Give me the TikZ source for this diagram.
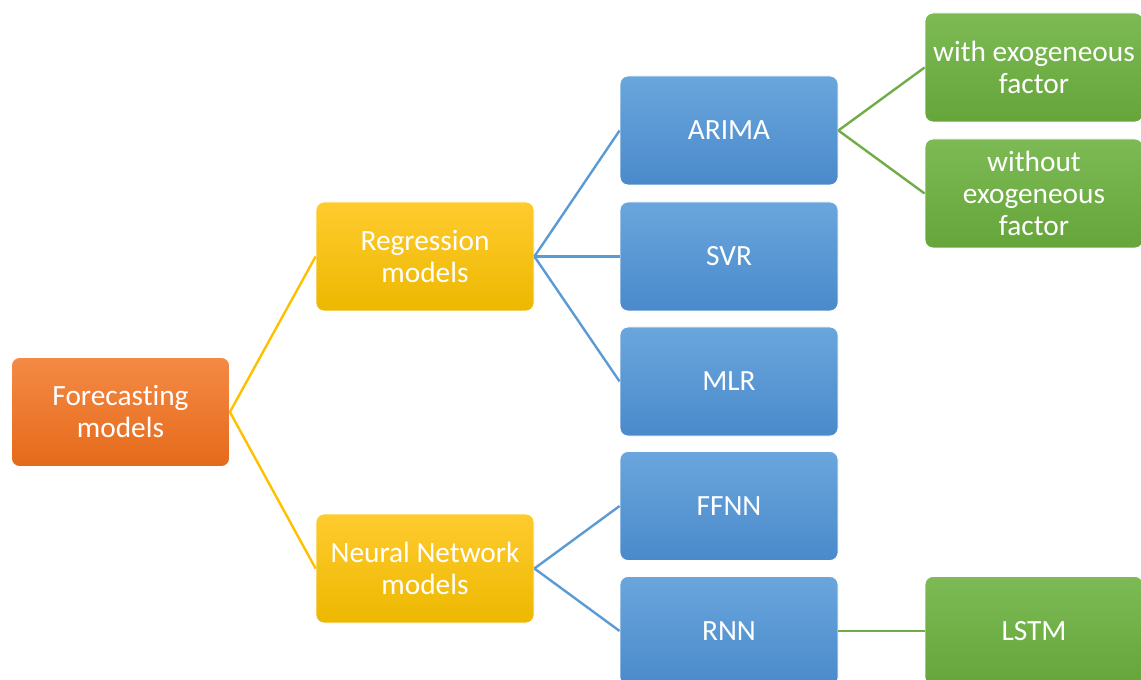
\documentclass[tikz,border=0pt]{standalone}
\usepackage{fontspec}
\setmainfont[Ligatures={NoCommon}]{Carlito}
\definecolor{orT}{HTML}{F48A45}
\definecolor{orB}{HTML}{E56A1A}
\definecolor{yeT}{HTML}{FFCB2E}
\definecolor{yeB}{HTML}{EDB800}
\definecolor{blT}{HTML}{6AA6DD}
\definecolor{blB}{HTML}{4A8ACB}
\definecolor{grT}{HTML}{7DBA55}
\definecolor{grB}{HTML}{65A53A}
\definecolor{lnY}{HTML}{FFC000}
\definecolor{lnB}{HTML}{5B9BD5}
\definecolor{lnG}{HTML}{70AD47}
\tikzset{
  box/.style={rounded corners=6pt, minimum width=163.5pt, minimum height=81.75pt,
    text=white, align=center, inner sep=2pt,
    font=\fontsize{22}{24}\selectfont, draw=white, line width=0.6pt},
  orbox/.style={box, top color=orT, bottom color=orB},
  yebox/.style={box, top color=yeT, bottom color=yeB},
  blbox/.style={box, top color=blT, bottom color=blB},
  grbox/.style={box, top color=grT, bottom color=grB},
  link/.style={line width=1.8pt},
}
\begin{document}
\begin{tikzpicture}[x=0.75pt, y=-0.75pt]
\useasboundingbox (0,0) rectangle (1141,680);
\begin{scope}
\clip (0,0) rectangle (1141,680);
\node[orbox] (fc) at (120.5,412) {Forecasting\\models};
\node[yebox] (reg) at (425,256.5) {Regression\\models};
\node[yebox] (nn) at (425,568.5) {Neural Network\\models};
\node[blbox] (arima) at (729,130.5) {ARIMA};
\node[blbox] (svr) at (729,256.5) {SVR};
\node[blbox] (mlr) at (729,381.5) {MLR};
\node[blbox] (ffnn) at (729,506) {FFNN};
\node[blbox] (rnn) at (729,631) {RNN};
\node[grbox] (with) at (1034,67.5) {with exogeneous\\factor};
\node[grbox] (without) at (1034,193.5) {without\\exogeneous\\factor};
\node[grbox] (lstm) at (1034,631) {LSTM};
\draw[link, lnY] (fc.east) -- (reg.west);
\draw[link, lnY] (fc.east) -- (nn.west);
\draw[link, lnB] (reg.east) -- (arima.west);
\draw[link, lnB] (reg.east) -- (svr.west);
\draw[link, lnB] (reg.east) -- (mlr.west);
\draw[link, lnB] (nn.east) -- (ffnn.west);
\draw[link, lnB] (nn.east) -- (rnn.west);
\draw[link, lnG] (arima.east) -- (with.west);
\draw[link, lnG] (arima.east) -- (without.west);
\draw[link, lnG] (rnn.east) -- (lstm.west);
\end{scope}
\end{tikzpicture}
\end{document}
